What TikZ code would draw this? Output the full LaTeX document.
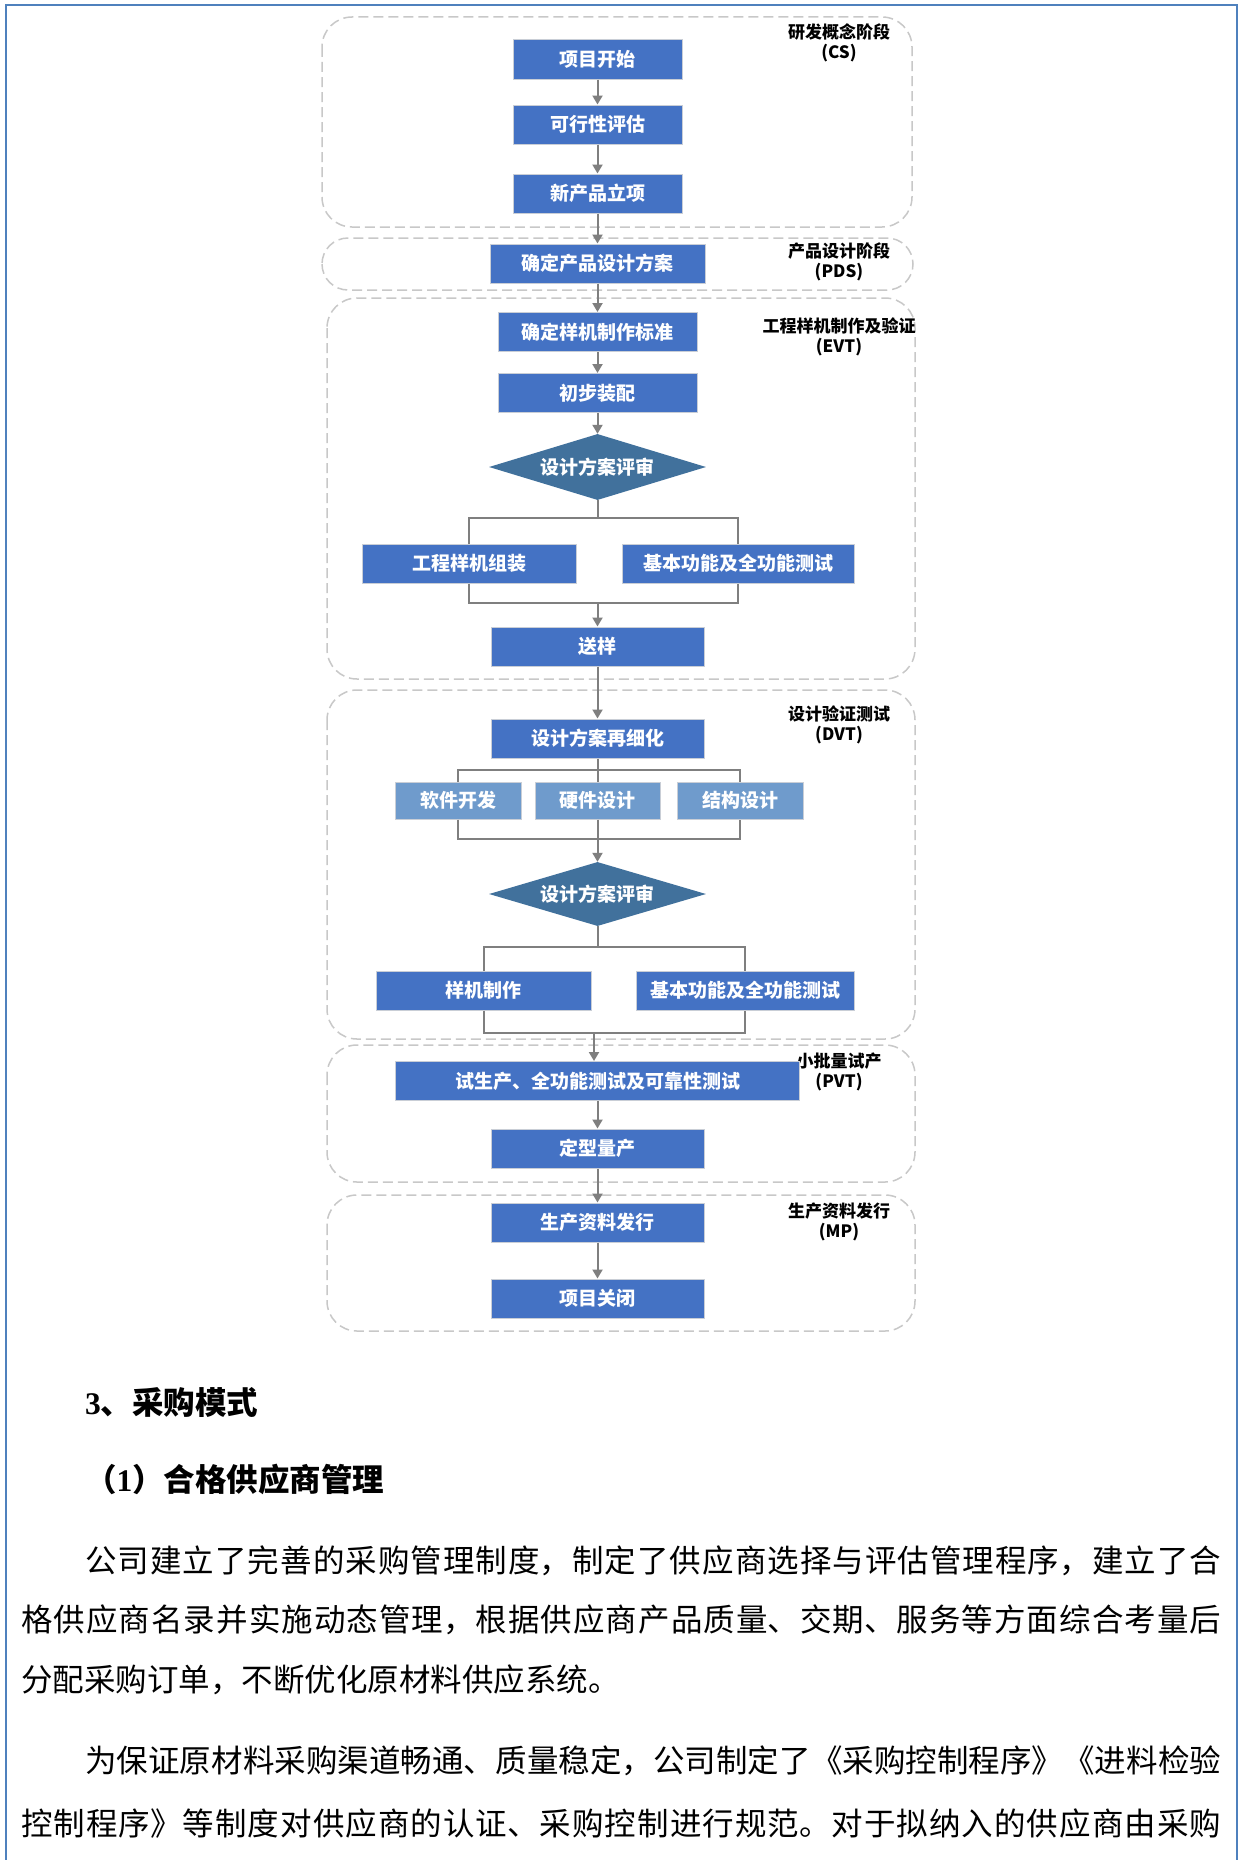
\documentclass[tikz,border=0pt]{standalone}
\usepackage{fontspec}
\setmainfont{Liberation Serif}
\newfontfamily\cjk{Noto Sans CJK SC}
\usetikzlibrary{shapes.geometric,arrows.meta}
\XeTeXlinebreaklocale "zh"
\XeTeXlinebreakskip=0pt plus 4pt
\definecolor{boxblue}{HTML}{4472C4}
\definecolor{subblue}{HTML}{6F9BCC}
\definecolor{diablue}{HTML}{41719C}
\definecolor{edgegrey}{HTML}{C9CED6}
\definecolor{linegrey}{HTML}{7F7F7F}
\definecolor{groupgrey}{HTML}{C8C8C8}
\definecolor{frameblue}{HTML}{4F81BD}
\newcommand{\jline}[2]{\parbox{#1}{\parfillskip=0pt\relax #2}}
\tikzset{
 stepbox/.style={rectangle, fill=boxblue, draw=edgegrey, line width=1pt, text=white,
   font=\cjk\bfseries\fontsize{19}{22}\selectfont, minimum height=39pt, inner sep=0pt},
 subbox/.style={stepbox, fill=subblue, minimum height=37pt},
 decision/.style={diamond, aspect=3.3, fill=diablue, text=white,
   font=\cjk\bfseries\fontsize{19}{22}\selectfont, minimum width=217pt, minimum height=66pt, inner sep=0pt},
 grp/.style={draw=groupgrey, dash pattern=on 10pt off 5pt, line width=1.5pt, rounded corners=30pt},
 grplabel/.style={font=\cjk\bfseries\fontsize{17}{20}\selectfont, align=center, text=black, inner sep=0pt},
 conn/.style={draw=linegrey, line width=2pt},
 arr/.style={conn, -{Triangle[width=10pt,length=9pt]}},
 bodyline/.style={anchor=west, inner sep=0pt, font=\cjk\fontsize{31.5}{36}\selectfont}
}
\begin{document}
\begin{tikzpicture}[x=1pt,y=-1pt]
\useasboundingbox (0,0) rectangle (1239,1860);
\fill[white] (0,0) rectangle (1239,1860);
% page frame
\draw[frameblue, line width=2pt] (6,1860) -- (6,5) -- (1237,5) -- (1237,1860);
% phase groups
\draw[grp] (322,17) rectangle (912,227);
\draw[grp, rounded corners=26pt] (322,238) rectangle (913,290);
\draw[grp] (327,298) rectangle (915,679);
\draw[grp] (327,690) rectangle (915,1039);
\draw[grp] (327,1045) rectangle (915,1182);
\draw[grp] (327,1195) rectangle (915,1331);
% phase labels
\node[grplabel] (lcs) at (839,43) {研发概念阶段\\(CS)};
\node[grplabel] (lpds) at (839,262) {产品设计阶段\\(PDS)};
\node[grplabel] (levt) at (839,336.5) {工程样机制作及验证\\(EVT)};
\node[grplabel] (ldvt) at (839,725) {设计验证测试\\(DVT)};
\node[grplabel] (lpvt) at (839,1072) {小批量试产\\(PVT)};
\node[grplabel] (lmp) at (839,1221.5) {生产资料发行\\(MP)};
% steps
\node[stepbox, minimum width=169pt] (n1) at (597.5,59.5) {项目开始};
\node[stepbox, minimum width=169pt] (n2) at (597.5,124.5) {可行性评估};
\node[stepbox, minimum width=169pt] (n3) at (597.5,193.5) {新产品立项};
\node[stepbox, minimum width=215pt] (n4) at (597.5,263.5) {确定产品设计方案};
\node[stepbox, minimum width=199pt] (n5) at (597.5,332) {确定样机制作标准};
\node[stepbox, minimum width=199pt] (n6) at (597.5,393) {初步装配};
\node[decision] (d1) at (597.5,467) {设计方案评审};
\node[stepbox, minimum width=214pt] (n7) at (469,563.5) {工程样机组装};
\node[stepbox, minimum width=232pt] (n8) at (738,563.5) {基本功能及全功能测试};
\node[stepbox, minimum width=213pt] (n9) at (597.5,646.5) {送样};
\node[stepbox, minimum width=213pt] (n10) at (597.5,738.5) {设计方案再细化};
\node[subbox, minimum width=126pt] (s1) at (458,800.5) {软件开发};
\node[subbox, minimum width=125pt] (s2) at (597.5,800.5) {硬件设计};
\node[subbox, minimum width=126pt] (s3) at (740,800.5) {结构设计};
\node[decision, minimum height=64pt] (d2) at (597.5,894) {设计方案评审};
\node[stepbox, minimum width=215pt] (n11) at (483.5,990.5) {样机制作};
\node[stepbox, minimum width=218pt] (n12) at (745,990.5) {基本功能及全功能测试};
\node[stepbox, minimum width=404pt] (n13) at (597.5,1081) {试生产、全功能测试及可靠性测试};
\node[stepbox, minimum width=213pt] (n14) at (597.5,1148.5) {定型量产};
\node[stepbox, minimum width=213pt] (n15) at (597.5,1222.5) {生产资料发行};
\node[stepbox, minimum width=213pt] (n16) at (597.5,1298.5) {项目关闭};
% junction points
\coordinate (b1) at (597.5,518);
\coordinate (c1) at (597.5,603);
\coordinate (b2) at (597.5,770);
\coordinate (c2) at (597.5,839);
\coordinate (b3) at (597.5,947);
\coordinate (c3) at (594,1033);
% connectors
\draw[arr] (n1) -- (n2);
\draw[arr] (n2) -- (n3);
\draw[arr] (n3) -- (n4);
\draw[arr] (n4) -- (n5);
\draw[arr] (n5) -- (n6);
\draw[arr] (n6) -- (d1);
\draw[conn] (d1.south) -- (b1);
\draw[conn] (n7.north) |- (b1) -| (n8.north);
\draw[conn] (n7.south) |- (c1) -| (n8.south);
\draw[arr] (c1) -- (n9.north);
\draw[arr] (n9) -- (n10);
\draw[conn] (n10.south) -- (b2) -- (s2.north);
\draw[conn] (s1.north) |- (b2) -| (s3.north);
\draw[conn] (s1.south) |- (c2) -| (s3.south);
\draw[conn] (s2.south) -- (c2);
\draw[arr] (c2) -- (d2.north);
\draw[conn] (d2.south) -- (b3);
\draw[conn] (n11.north) |- (b3) -| (n12.north);
\draw[conn] (n11.south) |- (c3) -| (n12.south);
\draw[arr] (c3) -- (n13.north -| c3);
\draw[arr] (n13) -- (n14);
\draw[arr] (n14) -- (n15);
\draw[arr] (n15) -- (n16);
% body text
\node[bodyline] (h1) at (85,1402) {{\rmfamily\bfseries 3}{\bfseries 、采购模式}};
\node[bodyline] (h2) at (85,1479) {{\bfseries （}{\rmfamily\bfseries 1}{\bfseries ）合格供应商管理}};
\node[bodyline] (p1) at (85,1561) {\jline{1136pt}{公司建立了完善的采购管理制度，制定了供应商选择与评估管理程序，建立了合}};
\node[bodyline] (p2) at (21,1620) {\jline{1200pt}{格供应商名录并实施动态管理，根据供应商产品质量、交期、服务等方面综合考量后}};
\node[bodyline] (p3) at (21,1680) {分配采购订单，不断优化原材料供应系统。};
\node[bodyline] (p4) at (85,1761) {\jline{1136pt}{为保证原材料采购渠道畅通、质量稳定，公司制定了《采购控制程序》《进料检验}};
\node[bodyline] (p5) at (21,1823) {\jline{1200pt}{控制程序》等制度对供应商的认证、采购控制进行规范。对于拟纳入的供应商由采购}};
\end{tikzpicture}
\end{document}
